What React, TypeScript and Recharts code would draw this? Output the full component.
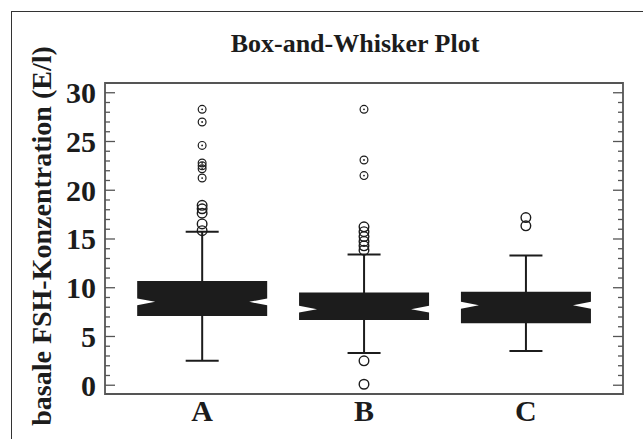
import React from 'react'
import { ComposedChart, Bar, Scatter, XAxis, YAxis, ReferenceArea } from 'recharts'

// groups and their box statistics (E/l)
const categories = ['A', 'B', 'C']
const whiskerLow = [2.5, 3.3, 3.5]
const q1 = [7.1, 6.7, 6.35]
const median = [8.55, 7.8, 8.2]
const q3 = [10.7, 9.5, 9.6]
const whiskerHigh = [15.75, 13.4, 13.3]
const notchHalf = [0.35, 0.35, 0.35]

// outside points (plain circles) and far outside points (dotted circles)
const outsideA = [18.45, 18.1, 17.65, 16.55, 15.85]
const farA = [28.3, 27.0, 24.6, 22.8, 22.5, 22.2, 21.25]
const outsideB = [16.25, 15.75, 15.25, 14.75, 14.3, 13.85, 2.5, 0.1]
const farB = [28.3, 23.1, 21.5]
const outsideC = [17.2, 16.35]

const allTicks = Array.from({ length: 31 }, (_, i) => i)
const yDomain = [-0.9, 31.0]
const xDomain = [0.4, 3.6]

const FONT = '"Liberation Serif", "Times New Roman", serif'
const INK = '#1c1c1c'
const FRAME = '#555'

const boxes = categories.map((name, i) => ({
  pos: i + 1,
  name,
  lo: whiskerLow[i],
  q1: q1[i],
  med: median[i],
  q3: q3[i],
  hi: whiskerHigh[i],
  notch: notchHalf[i],
  range: [whiskerLow[i], whiskerHigh[i]],
}))

const toPoints = (pos: number, vals: number[]) => vals.map((v) => ({ pos, v }))
const plainPoints = [...toPoints(1, outsideA), ...toPoints(2, outsideB), ...toPoints(3, outsideC)]
const dottedPoints = [...toPoints(1, farA), ...toPoints(2, farB)]

// notched box plus whiskers, scaled from the bar's own range rectangle
function BoxShape(props: any) {
  const { x, y, width, height, payload } = props
  const top = Math.min(y, y + height)
  const k = Math.abs(height) / (payload.hi - payload.lo)
  const py = (v: number) => top + (payload.hi - v) * k
  const cx = x + width / 2
  const left = x
  const right = x + width
  const depth = 18
  const capHalf = 16.5
  const yq3 = py(payload.q3)
  const yq1 = py(payload.q1)
  const ym = py(payload.med)
  const yn1 = py(payload.med + payload.notch)
  const yn2 = py(payload.med - payload.notch)
  const box = [
    [left, yq3],
    [right, yq3],
    [right, yn1],
    [right - depth, ym],
    [right, yn2],
    [right, yq1],
    [left, yq1],
    [left, yn2],
    [left + depth, ym],
    [left, yn1],
  ]
    .map((p) => p.join(','))
    .join(' ')
  return (
    <g>
      <line x1={cx} x2={cx} y1={py(payload.hi)} y2={py(payload.lo)} stroke={INK} strokeWidth={2} />
      <line x1={cx - capHalf} x2={cx + capHalf} y1={py(payload.hi)} y2={py(payload.hi)} stroke={INK} strokeWidth={2} />
      <line x1={cx - capHalf} x2={cx + capHalf} y1={py(payload.lo)} y2={py(payload.lo)} stroke={INK} strokeWidth={2} />
      <polygon points={box} fill={INK} />
    </g>
  )
}

function PlainDot(props: any) {
  const { cx, cy } = props
  return <circle cx={cx} cy={cy} r={4.8} fill="none" stroke={INK} strokeWidth={1.4} />
}

function DottedDot(props: any) {
  const { cx, cy } = props
  return (
    <g>
      <circle cx={cx} cy={cy} r={3.9} fill="none" stroke={INK} strokeWidth={1.2} />
      <circle cx={cx} cy={cy} r={0.9} fill={INK} />
    </g>
  )
}

function LeftTick(props: any) {
  const { x, y, payload } = props
  const major = payload.value % 5 === 0
  return (
    <g>
      <line x1={x} x2={x + (major ? 10 : 5)} y1={y} y2={y} stroke={FRAME} strokeWidth={1.3} />
      {major && (
        <text x={x - 9} y={y} dy="0.35em" textAnchor="end" fontFamily={FONT} fontWeight="bold" fontSize={30} fill={INK}>
          {payload.value}
        </text>
      )}
    </g>
  )
}

function RightTick(props: any) {
  const { x, y, payload } = props
  const major = payload.value % 5 === 0
  return <line x1={x} x2={x - (major ? 10 : 5)} y1={y} y2={y} stroke={FRAME} strokeWidth={1.3} />
}

export default function App() {
  return (
    <div style={{ position: 'absolute', left: 0, top: 0, width: 643, height: 439, background: '#fff', overflow: 'hidden' }}>
      <div
        style={{
          position: 'absolute',
          left: 11,
          top: 11,
          width: 700,
          height: 500,
          border: '1.5px solid #333',
          boxSizing: 'border-box',
        }}
      />
      <div
        style={{
          position: 'absolute',
          left: 0,
          top: 29,
          width: 710,
          textAlign: 'center',
          fontFamily: FONT,
          fontWeight: 'bold',
          fontSize: 26,
          color: INK,
        }}
      >
        Box-and-Whisker Plot
      </div>
      <div
        style={{
          position: 'absolute',
          left: 42,
          top: 236,
          transform: 'translate(-50%, -50%) rotate(-90deg)',
          whiteSpace: 'nowrap',
          fontFamily: FONT,
          fontWeight: 'bold',
          fontSize: 28,
          color: INK,
        }}
      >
        basale FSH-Konzentration (E/l)
      </div>
      <div style={{ position: 'absolute', left: 0, top: 0 }}>
        <ComposedChart width={643} height={439} data={boxes} margin={{ top: 83, right: 0, bottom: 0, left: 0 }}>
          <XAxis
            type="number"
            dataKey="pos"
            domain={xDomain}
            ticks={[1, 2, 3]}
            tickFormatter={(v: number) => categories[v - 1]}
            axisLine={false}
            tickLine={false}
            height={45}
            tick={{ fontFamily: FONT, fontWeight: 'bold', fontSize: 30, fill: INK }}
            tickMargin={0}
            allowDataOverflow
          />
          <YAxis
            yAxisId="left"
            type="number"
            domain={yDomain}
            ticks={allTicks}
            interval={0}
            width={105}
            axisLine={false}
            tickLine={false}
            tickSize={0}
            tickMargin={0}
            tick={<LeftTick />}
            allowDataOverflow
          />
          <YAxis
            yAxisId="right"
            orientation="right"
            type="number"
            domain={yDomain}
            ticks={allTicks}
            interval={0}
            width={20}
            axisLine={false}
            tickLine={false}
            tickSize={0}
            tickMargin={0}
            tick={<RightTick />}
            allowDataOverflow
          />
          <ReferenceArea
            yAxisId="left"
            x1={xDomain[0]}
            x2={xDomain[1]}
            y1={yDomain[0]}
            y2={yDomain[1]}
            fill="none"
            stroke={FRAME}
            strokeWidth={1.8}
            fillOpacity={0}
          />
          <Bar yAxisId="left" dataKey="range" barSize={130} shape={<BoxShape />} isAnimationActive={false} />
          <Scatter yAxisId="left" data={plainPoints} dataKey="v" shape={<PlainDot />} isAnimationActive={false} />
          <Scatter yAxisId="left" data={dottedPoints} dataKey="v" shape={<DottedDot />} isAnimationActive={false} />
        </ComposedChart>
      </div>
    </div>
  )
}
